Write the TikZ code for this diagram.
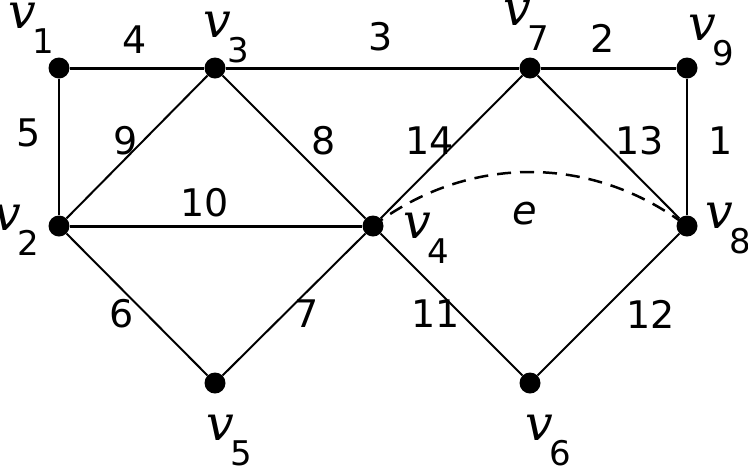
\documentclass[tikz,border=0pt]{standalone}
\usepackage{fontspec}
\setmainfont{DejaVu Sans}
\newfontfamily\vfam{DejaVu Serif}
\newcommand{\vlab}[1]{{\vfam\itshape\fontsize{49}{50}\selectfont v}\kern-3pt\raisebox{-25pt}{\fontsize{34}{36}\selectfont #1}}
\begin{document}
\begin{tikzpicture}[x=1pt,y=-1pt,
  vtx/.style={circle,fill=black,inner sep=0pt,minimum size=21pt},
  edge/.style={line width=2pt},
  hedge/.style={line width=3pt},
  wlab/.style={inner sep=0pt,font=\fontsize{38}{40}\selectfont},
  vname/.style={inner sep=0pt,anchor=base west}]
\useasboundingbox (0,0) rectangle (748,467);
\node[vtx] (v1) at (59,68) {};
\node[vtx] (v3) at (215,68) {};
\node[vtx] (v7) at (530,68) {};
\node[vtx] (v9) at (687,68) {};
\node[vtx] (v2) at (59,226) {};
\node[vtx] (v4) at (373,226) {};
\node[vtx] (v8) at (687,226) {};
\node[vtx] (v5) at (215,383) {};
\node[vtx] (v6) at (530,383) {};
% edges
\draw[hedge] (v1) -- (v3);
\draw[hedge] (v3) -- (v7);
\draw[hedge] (v7) -- (v9);
\draw[hedge] (v2) -- (v4);
\draw[edge] (v1) -- (v2);
\draw[edge] (v9) -- (v8);
\draw[edge] (v2) -- (v3);
\draw[edge] (v3) -- (v4);
\draw[edge] (v4) -- (v7);
\draw[edge] (v7) -- (v8);
\draw[edge] (v2) -- (v5);
\draw[edge] (v5) -- (v4);
\draw[edge] (v4) -- (v6);
\draw[edge] (v6) -- (v8);
\draw[line width=2.5pt,dash pattern=on 14pt off 9pt,dash phase=2pt] (v4.center) .. controls (468,154) and (592,154) .. (v8.center);
% weights
\node[wlab] (w4) at (135,40) {4};
\node[wlab] (w3) at (381,37) {3};
\node[wlab] (w2) at (603,38) {2};
\node[wlab] (w5) at (29,133) {5};
\node[wlab] (w9) at (126,141) {9};
\node[wlab] (w8) at (324,141) {8};
\node[wlab] (w14) at (430,141) {14};
\node[wlab] (w13) at (640,141) {13};
\node[wlab] (w1) at (721,141) {1};
\node[wlab] (w10) at (205,203) {10};
\node[wlab] (w6) at (122,314) {6};
\node[wlab] (w7) at (307,314) {7};
\node[wlab] (w11) at (436,314) {11};
\node[wlab] (w12) at (651,314) {12};
\node[inner sep=0pt,font=\fontsize{40}{42}\selectfont\itshape] (le) at (525,214) {e};
% vertex names
\node[vname] (n1) at (8,28) {\vlab{1}};
\node[vname] (n3) at (203,37) {\vlab{3}};
\node[vname] (n7) at (503,25) {\vlab{7}};
\node[vname] (n9) at (688,40) {\vlab{9}};
\node[vname] (n2) at (-7,230) {\vlab{2}};
\node[vname] (n4) at (403,238) {\vlab{4}};
\node[vname] (n8) at (705,228) {\vlab{8}};
\node[vname] (n5) at (206,440) {\vlab{5}};
\node[vname] (n6) at (525,440) {\vlab{6}};
\end{tikzpicture}
\end{document}
